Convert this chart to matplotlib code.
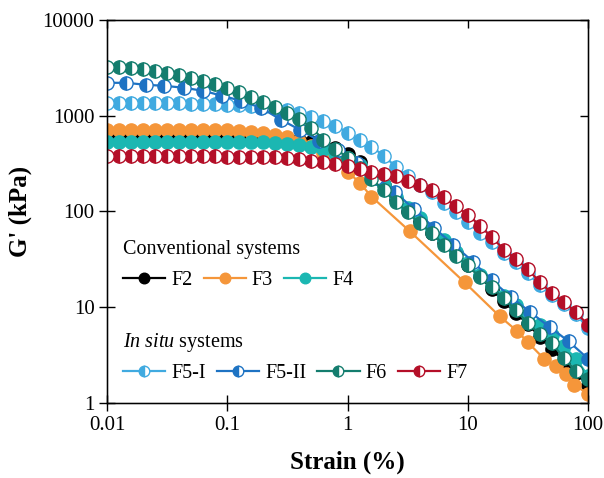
import numpy as np
import matplotlib; matplotlib.use("Agg")
import matplotlib.pyplot as plt
from matplotlib.ticker import FixedLocator, FixedFormatter, NullLocator

plt.rcParams["font.family"] = ["Liberation Serif", "DejaVu Serif"]
plt.rcParams["mathtext.fontset"] = "custom"
plt.rcParams["mathtext.rm"] = "Liberation Serif"
plt.rcParams["mathtext.it"] = "Liberation Serif:italic"

# common strain grid of the amplitude sweeps (%)
strain = [0.01, 0.0126, 0.0158, 0.0200, 0.0251, 0.0316, 0.0398, 0.0501, 0.0631, 0.0794,
          0.1, 0.126, 0.158, 0.200, 0.251, 0.316, 0.398, 0.501, 0.631, 0.794,
          1.0, 1.26, 1.58, 2.00, 2.51, 3.16, 3.98, 5.01, 6.31, 7.94,
          10.0, 12.6, 15.8, 20.0, 25.1, 31.6, 39.8, 50.1, 63.1, 79.4, 100]

# G' (kPa)
g_f2 = [600, 600, 600, 600, 600, 600, 600, 598, 598, 597, 596, 595, 593, 591, 590, 576,
        562, 536, 499, 464, 402, 332, 255, 187, 136, 102, 79, 60, 48, 36.5, 27.4, 21,
        15.4, 11.5, 8.7, 6.7, 4.9, 3.65, 2.74, 2.05, 1.54]
strain_f3 = [0.01, 0.0126, 0.0158, 0.0200, 0.0251, 0.0316, 0.0398, 0.0501, 0.0631, 0.0794,
             0.1, 0.126, 0.158, 0.200, 0.251, 0.316, 0.398, 0.501, 0.631, 0.794,
             1.0, 1.26, 1.58, 3.3, 9.4, 18.4, 25.9, 31.6, 43, 54, 65, 77, 100]
g_f3 = [715, 715, 715, 715, 715, 715, 715, 714, 713, 712, 710, 698, 681, 665, 634, 604,
        550, 487, 412, 340, 261, 200, 143, 62, 18.2, 8.05, 5.6, 4.3, 2.9, 2.43, 2.0,
        1.55, 1.24]
g_f4 = [536, 536, 536, 536, 536, 536, 536, 536, 536, 536, 536, 536, 536, 530, 523, 510,
        499, 475, 453, 412, 365, 309, 243, 187, 143, 110, 85, 65, 50, 38, 28.7, 21.5,
        16.6, 13, 10.5, 8.3, 6.5, 5.1, 3.9, 2.9, 1.91]
g_f5i = [1365, 1365, 1365, 1365, 1365, 1365, 1365, 1334, 1334, 1334, 1303, 1303, 1271,
         1241, 1212, 1155, 1075, 977, 887, 788, 665, 562, 475, 383, 294, 237, 191, 158,
         124, 98, 77, 60, 48, 37, 29.4, 22.6, 17, 13.3, 10.7, 8.5, 6.0]
strain_f5ii = [0.01, 0.0145, 0.021, 0.030, 0.044, 0.063, 0.091, 0.13, 0.19, 0.28, 0.40,
               0.58, 0.83, 1.2, 1.74, 2.5, 3.6, 5.2, 7.6, 11, 15.8, 23, 33, 48, 69, 100]
g_f5ii = [2207, 2207, 2104, 2054, 1957, 1820, 1615, 1433, 1212, 908, 715, 550, 442, 324,
          226, 158, 105, 68, 45, 30, 19.1, 12.7, 8.9, 6.2, 4.4, 2.9]
g_f6 = [3236, 3236, 3162, 3090, 2944, 2805, 2674, 2487, 2315, 2154, 1957, 1778, 1578, 1400,
        1241, 1075, 931, 750, 562, 453, 365, 287, 221, 166, 127, 98, 75, 60, 45, 34, 27.4,
        20.5, 16.2, 12.4, 9.3, 6.8, 5.2, 4.2, 2.94, 2.15, 1.78]
g_f7 = [383, 382, 381, 380, 380, 379, 378, 378, 377, 376, 375, 374, 372, 370, 368, 365,
        352, 340, 330, 312, 296, 281, 261, 249, 232, 210, 187, 166, 140, 113, 93, 71, 54,
        40, 32, 25, 18.2, 14, 11.3, 8.9, 6.5]

xticks = [0.01, 0.1, 1, 10, 100]
xticklabels = ["0.01", "0.1", "1", "10", "100"]
yticks = [1, 10, 100, 1000, 10000]
yticklabels = ["1", "10", "100", "1000", "10000"]

conv = [("F2", strain, g_f2, "#000000"),
        ("F3", strain_f3, g_f3, "#F5963A"),
        ("F4", strain, g_f4, "#1BB7B2")]
insitu = [("F5-I", strain, g_f5i, "#40AAE0"),
          ("F5-II", strain_f5ii, g_f5ii, "#1E73C3"),
          ("F6", strain, g_f6, "#147D6E"),
          ("F7", strain, g_f7, "#B40F28")]

fig = plt.figure(figsize=(6.04, 4.78), dpi=100)
ax = fig.add_axes([0.1772, 0.1569, 0.7964, 0.8013])

conv_h, insitu_h = [], []
for name, x, y, c in conv:
    h, = ax.plot(x, y, "-o", color=c, lw=1.6, ms=9.5, mec=c, mfc=c, mew=1)
    conv_h.append(h)
for name, x, y, c in insitu:
    # half-filled circles: coloured left half, white right half
    h, = ax.plot(x, y, "-o", color=c, lw=1.6, ms=9.5, mec=c, mfc=c, mew=1,
                 fillstyle="left", markerfacecoloralt="white")
    insitu_h.append(h)

ax.set_xscale("log"); ax.set_yscale("log")
ax.set_xlim(0.01, 100); ax.set_ylim(1, 10000)
ax.xaxis.set_major_locator(FixedLocator(xticks))
ax.xaxis.set_major_formatter(FixedFormatter(xticklabels))
ax.yaxis.set_major_locator(FixedLocator(yticks))
ax.yaxis.set_major_formatter(FixedFormatter(yticklabels))
ax.xaxis.set_minor_locator(NullLocator()); ax.yaxis.set_minor_locator(NullLocator())
ax.tick_params(direction="inout", length=11, width=1, labelsize=15, color="black")
for s in ax.spines.values():
    s.set_linewidth(1.0)

# inward ticks on top and right
axt = ax.twiny(); axt.set_xscale("log"); axt.set_xlim(0.01, 100)
axt.xaxis.set_major_locator(FixedLocator(xticks)); axt.xaxis.set_minor_locator(NullLocator())
axt.tick_params(direction="in", length=5.5, width=1, labeltop=False)
axr = ax.twinx(); axr.set_yscale("log"); axr.set_ylim(1, 10000)
axr.yaxis.set_major_locator(FixedLocator(yticks)); axr.yaxis.set_minor_locator(NullLocator())
axr.tick_params(direction="in", length=5.5, width=1, labelright=False)

ax.set_xlabel("Strain (%)", fontsize=18, fontweight="bold")
ax.set_ylabel("G' (kPa)", fontsize=18, fontweight="bold")
ax.xaxis.set_label_coords(0.5, -0.125)
ax.yaxis.set_label_coords(-0.155, 0.5)

ax.text(0.033, 0.402, "Conventional systems", transform=ax.transAxes, fontsize=14.5,
        va="center", ha="left")
ax.text(0.033, 0.157, r"$\mathit{In\ situ}$ systems", transform=ax.transAxes, fontsize=14.5,
        va="center", ha="left")
leg1 = ax.legend(conv_h, [c[0] for c in conv], loc="center left", bbox_to_anchor=(0.033, 0.321),
                 ncol=3, frameon=False, fontsize=14.5, handlelength=2.1, handletextpad=0.3,
                 columnspacing=0.55, borderpad=0, borderaxespad=0, markerscale=0.8)
ax.add_artist(leg1)
ax.legend(insitu_h, [c[0] for c in insitu], loc="center left", bbox_to_anchor=(0.033, 0.078),
          ncol=4, frameon=False, fontsize=14.5, handlelength=2.1, handletextpad=0.3,
          columnspacing=0.55, borderpad=0, borderaxespad=0, markerscale=0.8)

fig.savefig("out.png", dpi=100)
